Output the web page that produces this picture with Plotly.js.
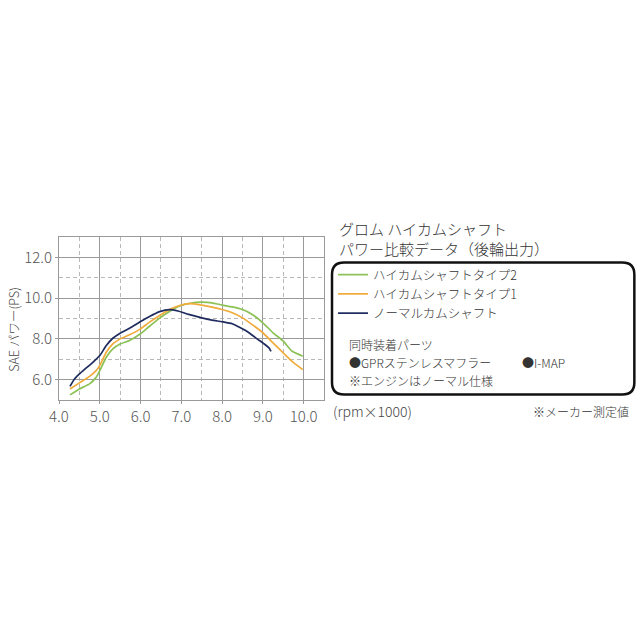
<!DOCTYPE html>
<html>
<head>
<meta charset="utf-8">
<script src="https://cdn.plot.ly/plotly-3.0.1.min.js"></script>
<style>html,body{margin:0;padding:0;background:#fff;}#chart{width:640px;height:640px;}</style>
</head>
<body>
<div id="chart"></div>
<script>
// ---- data ----
var type2Rpm = [4.27, 4.5, 4.75, 4.91, 5.0, 5.16, 5.32, 5.5, 5.73, 6.0, 6.22, 6.47, 6.71, 6.96, 7.22, 7.5, 7.75, 8.0, 8.25, 8.5, 8.74, 9.0, 9.25, 9.5, 9.72, 9.98];
var type2Ps  = [5.25, 5.54, 5.79, 6.11, 6.44, 7.1, 7.51, 7.75, 7.92, 8.25, 8.62, 9.02, 9.34, 9.61, 9.75, 9.8, 9.77, 9.66, 9.57, 9.44, 9.2, 8.79, 8.3, 7.89, 7.39, 7.15];

var type1Rpm = [4.27, 4.5, 4.75, 4.91, 5.0, 5.16, 5.32, 5.5, 5.73, 6.0, 6.22, 6.47, 6.71, 6.96, 7.18, 7.5, 7.75, 8.0, 8.25, 8.5, 8.74, 9.0, 9.25, 9.5, 9.76, 9.98];
var type1Ps  = [5.54, 5.84, 6.16, 6.44, 6.69, 7.34, 7.75, 8.0, 8.2, 8.49, 8.82, 9.15, 9.44, 9.64, 9.73, 9.66, 9.56, 9.44, 9.28, 9.03, 8.7, 8.3, 7.8, 7.31, 6.82, 6.49];

var normalRpm = [4.27, 4.38, 4.5, 4.66, 4.83, 5.0, 5.16, 5.32, 5.5, 5.73, 6.0, 6.22, 6.47, 6.71, 6.92, 7.18, 7.5, 7.75, 8.0, 8.25, 8.45, 8.66, 8.86, 9.02, 9.15, 9.2];
var normalPs  = [5.67, 6.03, 6.28, 6.56, 6.85, 7.18, 7.67, 8.03, 8.28, 8.52, 8.85, 9.10, 9.34, 9.44, 9.37, 9.2, 9.03, 8.92, 8.84, 8.74, 8.54, 8.3, 8.0, 7.77, 7.56, 7.39];

var seriesNames = ["ハイカムシャフトタイプ2", "ハイカムシャフトタイプ1", "ノーマルカムシャフト"];
var xTickVals = [4, 5, 6, 7, 8, 9, 10];
var xTickText = ["4.0", "5.0", "6.0", "7.0", "8.0", "9.0", "10.0"];
var yTickVals = [6, 8, 10, 12];
var yTickText = ["6.0", "8.0", "10.0", "12.0"];

var titleLines = ["グロム ハイカムシャフト", "パワー比較データ（後輪出力）"];
var yTitle = "SAE パワー(PS)";
var xUnit = "(rpm×1000)";
var noteMaker = "※メーカー測定値";
var partsHead = "同時装着パーツ";
var partsA = "●GPRステンレスマフラー";
var partsB = "●I-MAP";
var engineNote = "※エンジンはノーマル仕様";

// ---- layout helpers (pixel -> paper) ----
var L = 59.3, R = 324, T = 237, B = 400;
var W = R - L, H = B - T;
function PX(px) { return (px - L) / W; }
function PY(py) { return (B - py) / H; }

var FONT = "Noto Sans CJK JP, Noto Sans, sans-serif";
var colors = ["#8cc155", "#f0ab3c", "#1f2b5e"];

var traces = [
  {x: type2Rpm, y: type2Ps, name: seriesNames[0]},
  {x: type1Rpm, y: type1Ps, name: seriesNames[1]},
  {x: normalRpm, y: normalPs, name: seriesNames[2]}
].map(function (t, i) {
  t.type = "scatter"; t.mode = "lines";
  t.line = {color: colors[i], width: 1.7, shape: "spline", smoothing: 0.5};
  t.hoverinfo = "skip";
  return t;
});

// rounded box
var bx0 = PX(332), bx1 = PX(634), by0 = PY(394.5), by1 = PY(262.5);
var rx = 12 / W, ry = 12 / H;
var boxPath = "M " + (bx0 + rx) + " " + by1 +
  " L " + (bx1 - rx) + " " + by1 +
  " Q " + bx1 + " " + by1 + " " + bx1 + " " + (by1 - ry) +
  " L " + bx1 + " " + (by0 + ry) +
  " Q " + bx1 + " " + by0 + " " + (bx1 - rx) + " " + by0 +
  " L " + (bx0 + rx) + " " + by0 +
  " Q " + bx0 + " " + by0 + " " + bx0 + " " + (by0 + ry) +
  " L " + bx0 + " " + (by1 - ry) +
  " Q " + bx0 + " " + by1 + " " + (bx0 + rx) + " " + by1 + " Z";

function ann(text, px, py, size, anchor, extra) {
  var a = {text: text, xref: "paper", yref: "paper", x: PX(px), y: PY(py),
    xanchor: anchor || "left", yanchor: "middle", showarrow: false,
    font: {family: FONT, size: size, color: "#333", weight: 300}};
  if (extra) for (var k in extra) a[k] = extra[k];
  return a;
}

var tickFont = {family: FONT, size: 15, color: "#555", weight: 300};

var layout = {
  width: 640, height: 640,
  paper_bgcolor: "#fff", plot_bgcolor: "#fff",
  margin: {l: L, r: 640 - R, t: T, b: 640 - B, autoexpand: false},
  font: {family: FONT, color: "#444", weight: 300},
  showlegend: true,
  legend: {x: PX(333), y: PY(260), xanchor: "left", yanchor: "top",
    bgcolor: "rgba(0,0,0,0)", borderwidth: 0,
    font: {family: FONT, size: 12.5, color: "#333", weight: 300}, tracegroupgap: 0},
  xaxis: {range: [4, 10.5], tickvals: xTickVals, ticktext: xTickText,
    showgrid: true, gridcolor: "#9a9a9a", gridwidth: 1,
    showline: true, mirror: true, linecolor: "#9a9a9a", linewidth: 1,
    ticks: "outside", ticklen: 3, tickcolor: "#9a9a9a",
    tickfont: tickFont,
    minor: {dtick: 0.5, tick0: 4, showgrid: true, gridcolor: "#b8b8b8", griddash: "4px,3px", gridwidth: 1},
    zeroline: false, fixedrange: true},
  yaxis: {range: [5, 13], tickvals: yTickVals, ticktext: yTickText,
    showgrid: true, gridcolor: "#9a9a9a", gridwidth: 1,
    showline: true, mirror: true, linecolor: "#9a9a9a", linewidth: 1,
    ticks: "outside", ticklen: 3, tickcolor: "#9a9a9a",
    tickfont: tickFont,
    minor: {dtick: 1, tick0: 5, showgrid: true, gridcolor: "#b8b8b8", griddash: "4px,3px", gridwidth: 1},
    zeroline: false, fixedrange: true},
  shapes: [{type: "path", xref: "paper", yref: "paper", path: boxPath,
    line: {color: "#111", width: 2.5}, fillcolor: "rgba(0,0,0,0)"}],
  annotations: [
    ann(titleLines[0], 337, 228, 15),
    ann(titleLines[1], 337, 248, 15),
    ann(partsHead, 347, 344, 12),
    ann(partsA, 347, 362, 12),
    ann(partsB, 520, 362, 12),
    ann(engineNote, 347, 380, 12),
    ann(xUnit, 331, 411, 14, "left", {font: {family: FONT, size: 14, color: "#444", weight: 300}}),
    ann(noteMaker, 631, 411, 12, "right"),
    ann(yTitle, 13, 329, 12.5, "center", {textangle: -90, font: {family: FONT, size: 12.5, color: "#444", weight: 300}})
  ]
};

Plotly.newPlot("chart", traces, layout, {staticPlot: true, displayModeBar: false});
</script>
</body>
</html>
